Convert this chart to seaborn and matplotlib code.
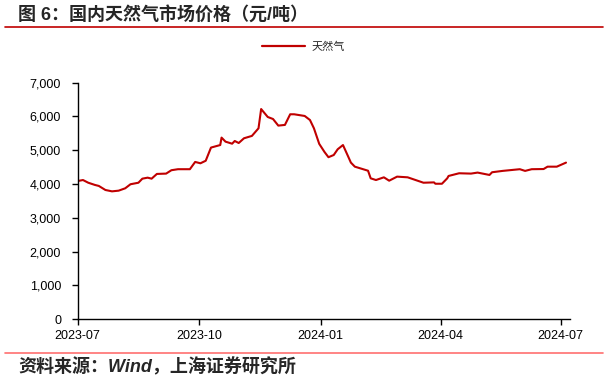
"""
国内天然气市场价格（元/吨）
"""

import pandas as pd
import seaborn as sns
import matplotlib.pyplot as plt
import matplotlib.dates as mdates
from matplotlib.ticker import FuncFormatter
from matplotlib.lines import Line2D

# ── 数据 ──
fechas = [
    "2023-07-01", "2023-07-05", "2023-07-09", "2023-07-14", "2023-07-17",
    "2023-07-22", "2023-07-27", "2023-08-01", "2023-08-06", "2023-08-10",
    "2023-08-16", "2023-08-19", "2023-08-23", "2023-08-26", "2023-08-30",
    "2023-09-06", "2023-09-10", "2023-09-15", "2023-09-24", "2023-09-28",
    "2023-10-02", "2023-10-06", "2023-10-10", "2023-10-17", "2023-10-18",
    "2023-10-21", "2023-10-26", "2023-10-28", "2023-10-31", "2023-11-04",
    "2023-11-10", "2023-11-15", "2023-11-17", "2023-11-22", "2023-11-26",
    "2023-11-30", "2023-12-05", "2023-12-09", "2023-12-12", "2023-12-20",
    "2023-12-24", "2023-12-27", "2023-12-31", "2024-01-04", "2024-01-07",
    "2024-01-11", "2024-01-14", "2024-01-18", "2024-01-22", "2024-01-24",
    "2024-01-27", "2024-02-06", "2024-02-08", "2024-02-12", "2024-02-18",
    "2024-02-22", "2024-02-28", "2024-03-07", "2024-03-13", "2024-03-19",
    "2024-03-27", "2024-03-28", "2024-04-02", "2024-04-04", "2024-04-06",
    "2024-04-07", "2024-04-15", "2024-04-24", "2024-04-29", "2024-05-08",
    "2024-05-10", "2024-05-18", "2024-05-31", "2024-06-04", "2024-06-09",
    "2024-06-18", "2024-06-21", "2024-06-28", "2024-07-05",
]
precio = [
    4090, 4120, 4040, 3975, 3945,
    3825, 3785, 3805, 3875, 3995,
    4040, 4160, 4190, 4160, 4300,
    4310, 4410, 4440, 4440, 4655,
    4615, 4690, 5080, 5155, 5375,
    5255, 5195, 5275, 5215, 5355,
    5425, 5650, 6220, 5985, 5925,
    5730, 5750, 6065, 6065, 6015,
    5895, 5650, 5190, 4950, 4795,
    4860, 5030, 5155, 4810, 4635,
    4515, 4395, 4170, 4120, 4200,
    4100, 4220, 4200, 4120, 4040,
    4050, 4010, 4010, 4090, 4170,
    4240, 4320, 4310, 4340, 4270,
    4350, 4390, 4440, 4390, 4440,
    4445, 4515, 4515, 4635,
]
ticks_x = ["2023-07-01", "2023-10-01", "2024-01-01", "2024-04-01", "2024-07-01"]

ROJO = "#C00000"
FUENTE = ["Liberation Sans", "Noto Sans CJK SC"]

sns.set_style("white")
plt.rcParams["font.family"] = FUENTE
plt.rcParams["axes.unicode_minus"] = False

df = pd.DataFrame({"fecha": pd.to_datetime(fechas), "precio": precio})

fig = plt.figure(figsize=(6.07, 3.81), dpi=100)
ax = fig.add_axes([0.128, 0.162, 0.811, 0.621])

sns.lineplot(data=df, x="fecha", y="precio", ax=ax, color=ROJO, lw=1.5)

ax.set_ylim(0, 7000)
ax.set_yticks(range(0, 7001, 1000))
ax.yaxis.set_major_formatter(FuncFormatter(lambda v, p: f"{v:,.0f}"))
ax.set_xlim(pd.Timestamp("2023-07-01"), pd.Timestamp("2024-07-08"))
ax.set_xticks(pd.to_datetime(ticks_x))
ax.xaxis.set_major_formatter(mdates.DateFormatter("%Y-%m"))
ax.set_xlabel("")
ax.set_ylabel("")

for s in ["top", "right"]:
    ax.spines[s].set_visible(False)
for s in ["left", "bottom"]:
    ax.spines[s].set_color("black")
    ax.spines[s].set_linewidth(1.0)
ax.tick_params(axis="both", direction="out", length=4, width=1.0,
               colors="black", labelsize=9)
ax.tick_params(axis="y", pad=8)
ax.tick_params(axis="x", pad=4)
ax.tick_params(left=True, bottom=True)

# leyenda
h = Line2D([], [], color=ROJO, lw=1.6)
fig.legend([h], ["天然气"], loc="center", bbox_to_anchor=(0.5, 0.876),
           frameon=False, handlelength=3.8, handletextpad=0.6,
           prop={"family": FUENTE, "size": 8})

# título y líneas
fig.text(0.03, 0.96, "图 6：国内天然气市场价格（元/吨）", fontsize=13,
         fontweight="bold", va="center", ha="left", family=FUENTE)
fig.add_artist(Line2D([0.008, 0.993], [0.929, 0.929], color=ROJO, lw=1.2,
                      transform=fig.transFigure))
fig.add_artist(Line2D([0.008, 0.993], [0.073, 0.073], color="#FF7070", lw=1.2,
                      transform=fig.transFigure))
fig.text(0.03, 0.037, "资料来源：Wind，上海证券研究所", fontsize=13,
         fontweight="bold", fontstyle="italic", va="center", ha="left",
         family=FUENTE)

fig.savefig("out.png", dpi=100)
